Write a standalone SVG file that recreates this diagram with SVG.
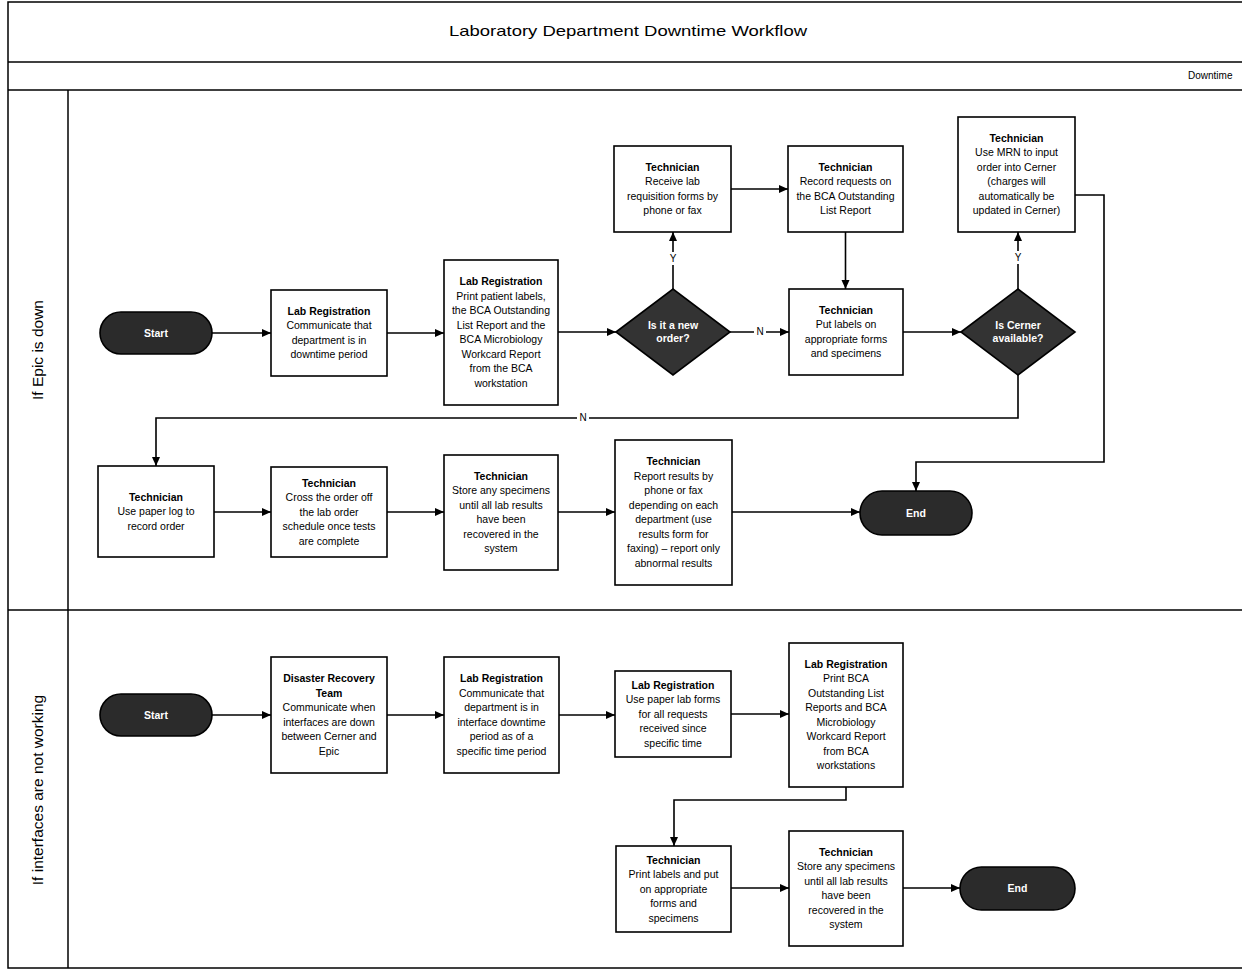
<svg xmlns="http://www.w3.org/2000/svg" width="1242" height="972" viewBox="0 0 1242 972">
<style>
.frame{fill:none;stroke:#000;stroke-width:1.5}
.box{fill:#fff;stroke:#000;stroke-width:1.6}
.term{fill:#2b2b2b;stroke:#000;stroke-width:1.6}
.dia{fill:#333;stroke:#000;stroke-width:1.6}
.t{font-family:"Liberation Sans",Arial,sans-serif;font-size:10.5px;fill:#000;text-anchor:middle}
.tw{font-family:"Liberation Sans",Arial,sans-serif;font-size:10.5px;fill:#fff;text-anchor:middle;font-weight:bold}
.b{font-weight:bold}
.lane{font-family:"Liberation Sans",Arial,sans-serif;font-size:15.5px;fill:#000;text-anchor:middle}
.lbl{font-family:"Liberation Sans",Arial,sans-serif;font-size:10px;fill:#000;text-anchor:middle}
.c{fill:none;stroke:#000;stroke-width:1.6;marker-end:url(#ah)}
</style>
<defs>
<marker id="ah" markerWidth="10" markerHeight="10" refX="9" refY="5" orient="auto" markerUnits="userSpaceOnUse">
<path d="M0,1 L9,5 L0,9 Z" fill="#000"/>
</marker>
</defs>
<rect width="1242" height="972" fill="#fff"/>
<g id="frame">
<rect class="frame" x="8" y="2" width="1240" height="966"/>
<line class="frame" x1="8" y1="62" x2="1242" y2="62"/>
<line class="frame" x1="8" y1="90" x2="1242" y2="90"/>
<line class="frame" x1="8" y1="610" x2="1242" y2="610"/>
<line class="frame" x1="68" y1="90" x2="68" y2="968"/>
<text x="628" y="36" font-family="Liberation Sans, Arial, sans-serif" font-size="15" text-anchor="middle" textLength="358" lengthAdjust="spacingAndGlyphs">Laboratory Department Downtime Workflow</text>
<text x="1188" y="79" font-family="Liberation Sans, Arial, sans-serif" font-size="10">Downtime</text>
<text class="lane" transform="translate(43,350) rotate(-90)">If Epic is down</text>
<text class="lane" transform="translate(43,790) rotate(-90)">If interfaces are not working</text>
</g>
<g id="connectors">
<path class="c" d="M212,333 H271"/>
<path class="c" d="M387,333 H444"/>
<path class="c" d="M558,332 H616"/>
<path class="c" d="M673,289 V232"/>
<path class="c" d="M731,189 H788"/>
<path class="c" d="M845.5,232 V289"/>
<path class="c" d="M730,332 H789"/>
<path class="c" d="M903,332 H961"/>
<path class="c" d="M1018,289 V232"/>
<path class="c" d="M1018,375 V418 H156 V466"/>
<path class="c" d="M1075,195 H1104 V462 H916 V491"/>
<path class="c" d="M214,512 H271"/>
<path class="c" d="M387,512 H444"/>
<path class="c" d="M558,512 H615"/>
<path class="c" d="M732,512 H860"/>
<path class="c" d="M212,715 H271"/>
<path class="c" d="M387,715 H444"/>
<path class="c" d="M559,715 H615"/>
<path class="c" d="M731,714 H789"/>
<path class="c" d="M846,787 V800 H674 V846"/>
<path class="c" d="M731,888 H789"/>
<path class="c" d="M903,888 H960"/>
<rect x="667" y="252" width="12" height="13" fill="#fff"/>
<text class="lbl" x="673" y="262">Y</text>
<rect x="1012" y="251" width="12" height="13" fill="#fff"/>
<text class="lbl" x="1018" y="261">Y</text>
<rect x="754" y="325" width="12" height="13" fill="#fff"/>
<text class="lbl" x="760" y="335">N</text>
<rect x="577" y="411" width="12" height="13" fill="#fff"/>
<text class="lbl" x="583" y="421">N</text>
</g>
<g id="start1"><rect class="term" x="100" y="312" width="112" height="42" rx="21"/><text class="tw" x="156" y="337">Start</text></g>
<g id="comm1"><rect class="box" x="271" y="290" width="116" height="86"/><text class="t" y="314.75"><tspan class="b" x="329">Lab Registration</tspan><tspan x="329" dy="14.5">Communicate that</tspan><tspan x="329" dy="14.5">department is in</tspan><tspan x="329" dy="14.5">downtime period</tspan></text></g>
<g id="print1"><rect class="box" x="444" y="260" width="114" height="145"/><text class="t" y="285.25"><tspan class="b" x="501">Lab Registration</tspan><tspan x="501" dy="14.5">Print patient labels,</tspan><tspan x="501" dy="14.5">the BCA Outstanding</tspan><tspan x="501" dy="14.5">List Report and the</tspan><tspan x="501" dy="14.5">BCA Microbiology</tspan><tspan x="501" dy="14.5">Workcard Report</tspan><tspan x="501" dy="14.5">from the BCA</tspan><tspan x="501" dy="14.5">workstation</tspan></text></g>
<g id="dec1"><polygon class="dia" points="616,332 673,289 730,332 673,375"/><text class="tw" y="329"><tspan x="673">Is it a new</tspan><tspan x="673" dy="13">order?</tspan></text></g>
<g id="receive"><rect class="box" x="614" y="146" width="117" height="86"/><text class="t" y="170.75"><tspan class="b" x="672.5">Technician</tspan><tspan x="672.5" dy="14.5">Receive lab</tspan><tspan x="672.5" dy="14.5">requisition forms by</tspan><tspan x="672.5" dy="14.5">phone or fax</tspan></text></g>
<g id="record"><rect class="box" x="788" y="146" width="115" height="86"/><text class="t" y="170.75"><tspan class="b" x="845.5">Technician</tspan><tspan x="845.5" dy="14.5">Record requests on</tspan><tspan x="845.5" dy="14.5">the BCA Outstanding</tspan><tspan x="845.5" dy="14.5">List Report</tspan></text></g>
<g id="putlabels"><rect class="box" x="789" y="289" width="114" height="86"/><text class="t" y="313.75"><tspan class="b" x="846">Technician</tspan><tspan x="846" dy="14.5">Put labels on</tspan><tspan x="846" dy="14.5">appropriate forms</tspan><tspan x="846" dy="14.5">and specimens</tspan></text></g>
<g id="dec2"><polygon class="dia" points="961,332 1018,289 1075,332 1018,375"/><text class="tw" y="329"><tspan x="1018">Is Cerner</tspan><tspan x="1018" dy="13">available?</tspan></text></g>
<g id="mrn"><rect class="box" x="958" y="117" width="117" height="115"/><text class="t" y="141.75"><tspan class="b" x="1016.5">Technician</tspan><tspan x="1016.5" dy="14.5">Use MRN to input</tspan><tspan x="1016.5" dy="14.5">order into Cerner</tspan><tspan x="1016.5" dy="14.5">(charges will</tspan><tspan x="1016.5" dy="14.5">automatically be</tspan><tspan x="1016.5" dy="14.5">updated in Cerner)</tspan></text></g>
<g id="paperlog"><rect class="box" x="98" y="466" width="116" height="91"/><text class="t" y="500.5"><tspan class="b" x="156">Technician</tspan><tspan x="156" dy="14.5">Use paper log to</tspan><tspan x="156" dy="14.5">record order</tspan></text></g>
<g id="cross"><rect class="box" x="271" y="467" width="116" height="90"/><text class="t" y="486.5"><tspan class="b" x="329">Technician</tspan><tspan x="329" dy="14.5">Cross the order off</tspan><tspan x="329" dy="14.5">the lab order</tspan><tspan x="329" dy="14.5">schedule once tests</tspan><tspan x="329" dy="14.5">are complete</tspan></text></g>
<g id="store1"><rect class="box" x="444" y="455" width="114" height="115"/><text class="t" y="479.75"><tspan class="b" x="501">Technician</tspan><tspan x="501" dy="14.5">Store any specimens</tspan><tspan x="501" dy="14.5">until all lab results</tspan><tspan x="501" dy="14.5">have been</tspan><tspan x="501" dy="14.5">recovered in the</tspan><tspan x="501" dy="14.5">system</tspan></text></g>
<g id="report"><rect class="box" x="615" y="440" width="117" height="145"/><text class="t" y="465.25"><tspan class="b" x="673.5">Technician</tspan><tspan x="673.5" dy="14.5">Report results by</tspan><tspan x="673.5" dy="14.5">phone or fax</tspan><tspan x="673.5" dy="14.5">depending on each</tspan><tspan x="673.5" dy="14.5">department (use</tspan><tspan x="673.5" dy="14.5">results form for</tspan><tspan x="673.5" dy="14.5">faxing) – report only</tspan><tspan x="673.5" dy="14.5">abnormal results</tspan></text></g>
<g id="end1"><rect class="term" x="860" y="491" width="112" height="44" rx="22"/><text class="tw" x="916" y="517">End</text></g>
<g id="start2"><rect class="term" x="100" y="694" width="112" height="42" rx="21"/><text class="tw" x="156" y="719">Start</text></g>
<g id="disaster"><rect class="box" x="271" y="657" width="116" height="116"/><text class="t" y="682.25"><tspan class="b" x="329">Disaster Recovery</tspan><tspan class="b" x="329" dy="14.5">Team</tspan><tspan x="329" dy="14.5">Communicate when</tspan><tspan x="329" dy="14.5">interfaces are down</tspan><tspan x="329" dy="14.5">between Cerner and</tspan><tspan x="329" dy="14.5">Epic</tspan></text></g>
<g id="labreg2"><rect class="box" x="444" y="657" width="115" height="116"/><text class="t" y="682.25"><tspan class="b" x="501.5">Lab Registration</tspan><tspan x="501.5" dy="14.5">Communicate that</tspan><tspan x="501.5" dy="14.5">department is in</tspan><tspan x="501.5" dy="14.5">interface downtime</tspan><tspan x="501.5" dy="14.5">period as of a</tspan><tspan x="501.5" dy="14.5">specific time period</tspan></text></g>
<g id="paperforms"><rect class="box" x="615" y="671" width="116" height="86"/><text class="t" y="688.5"><tspan class="b" x="673">Lab Registration</tspan><tspan x="673" dy="14.5">Use paper lab forms</tspan><tspan x="673" dy="14.5">for all requests</tspan><tspan x="673" dy="14.5">received since</tspan><tspan x="673" dy="14.5">specific time</tspan></text></g>
<g id="printbca"><rect class="box" x="789" y="643" width="114" height="144"/><text class="t" y="667.75"><tspan class="b" x="846">Lab Registration</tspan><tspan x="846" dy="14.5">Print BCA</tspan><tspan x="846" dy="14.5">Outstanding List</tspan><tspan x="846" dy="14.5">Reports and BCA</tspan><tspan x="846" dy="14.5">Microbiology</tspan><tspan x="846" dy="14.5">Workcard Report</tspan><tspan x="846" dy="14.5">from BCA</tspan><tspan x="846" dy="14.5">workstations</tspan></text></g>
<g id="printlabels"><rect class="box" x="616" y="846" width="115" height="86"/><text class="t" y="863.5"><tspan class="b" x="673.5">Technician</tspan><tspan x="673.5" dy="14.5">Print labels and put</tspan><tspan x="673.5" dy="14.5">on appropriate</tspan><tspan x="673.5" dy="14.5">forms and</tspan><tspan x="673.5" dy="14.5">specimens</tspan></text></g>
<g id="store2"><rect class="box" x="789" y="831" width="114" height="115"/><text class="t" y="855.75"><tspan class="b" x="846">Technician</tspan><tspan x="846" dy="14.5">Store any specimens</tspan><tspan x="846" dy="14.5">until all lab results</tspan><tspan x="846" dy="14.5">have been</tspan><tspan x="846" dy="14.5">recovered in the</tspan><tspan x="846" dy="14.5">system</tspan></text></g>
<g id="end2"><rect class="term" x="960" y="867" width="115" height="43" rx="21.5"/><text class="tw" x="1017.5" y="892">End</text></g>
</svg>
